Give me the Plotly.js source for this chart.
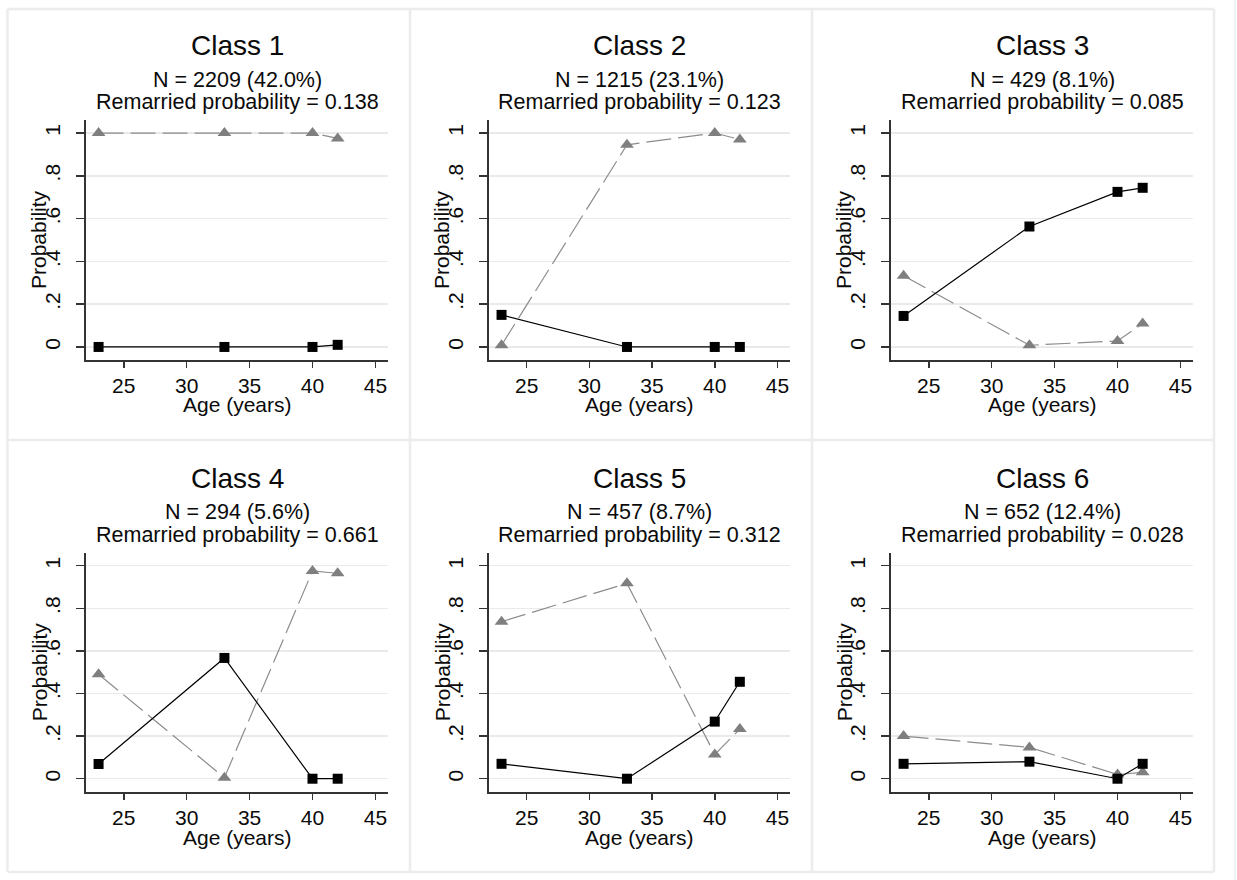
<!DOCTYPE html>
<html>
<head>
<meta charset="utf-8">
<script src="https://cdn.plot.ly/plotly-3.0.1.min.js"></script>
<style>html,body{margin:0;padding:0;background:#fff;}#chart{width:1237px;height:880px;}</style>
</head>
<body>
<div id="chart"></div>
<script>
// ---- data ----
const ages = [23, 33, 40, 42];
const classTitles = ["Class 1", "Class 2", "Class 3", "Class 4", "Class 5", "Class 6"];
const nLabels = ["N = 2209 (42.0%)", "N = 1215 (23.1%)", "N = 429 (8.1%)", "N = 294 (5.6%)", "N = 457 (8.7%)", "N = 652 (12.4%)"];
const remarriedProb = ["0.138", "0.123", "0.085", "0.661", "0.312", "0.028"];
const solidSeries1 = [0, 0, 0, 0.01];
const dashedSeries1 = [1.0, 1.0, 1.0, 0.975];
const solidSeries2 = [0.15, 0, 0, 0];
const dashedSeries2 = [0.008, 0.945, 1.0, 0.97];
const solidSeries3 = [0.145, 0.563, 0.725, 0.744];
const dashedSeries3 = [0.333, 0.008, 0.028, 0.11];
const solidSeries4 = [0.069, 0.567, 0, 0];
const dashedSeries4 = [0.49, 0.005, 0.975, 0.964];
const solidSeries5 = [0.07, 0, 0.268, 0.455];
const dashedSeries5 = [0.737, 0.917, 0.114, 0.233];
const solidSeries6 = [0.07, 0.08, 0, 0.07];
const dashedSeries6 = [0.2, 0.147, 0.02, 0.03];
const yTickVals = [0, 0.2, 0.4, 0.6, 0.8, 1];
const yTickText = ["0", ".2", ".4", ".6", ".8", "1"];
const xTickVals = [25, 30, 35, 40, 45];
const xTitle = "Age (years)";
const yTitle = "Probability";

const solidAll = [solidSeries1, solidSeries2, solidSeries3, solidSeries4, solidSeries5, solidSeries6];
const dashedAll = [dashedSeries1, dashedSeries2, dashedSeries3, dashedSeries4, dashedSeries5, dashedSeries6];

// ---- layout geometry (pixels) ----
const W = 1237, H = 880;
const FONT = "Liberation Sans, Arial, sans-serif";
const TXT = "#0a0a0a";
const px = v => v / W;
const py = v => 1 - v / H;
const colsPx = [[86, 388], [489, 790], [891, 1193]];
const rowsPx = [[120.2, 359.8], [552.9, 791.5]];
const rowOffset = [0, 432.7];

const traces = [];
const layout = {
  width: W, height: H,
  margin: {l: 0, r: 0, t: 0, b: 0},
  paper_bgcolor: "#ffffff",
  plot_bgcolor: "#ffffff",
  showlegend: false,
  font: {family: FONT, color: TXT},
  annotations: [],
  shapes: []
};

for (let i = 0; i < 6; i++) {
  const r = Math.floor(i / 3), c = i % 3;
  const k = i + 1;
  const xs = k === 1 ? "x" : "x" + k;
  const ys = k === 1 ? "y" : "y" + k;
  const xName = k === 1 ? "xaxis" : "xaxis" + k;
  const yName = k === 1 ? "yaxis" : "yaxis" + k;
  const [l, rr] = colsPx[c];
  const [t, b] = rowsPx[r];
  layout[xName] = {
    domain: [px(l), px(rr)], anchor: ys,
    range: [22, 46], tickvals: xTickVals,
    ticks: "outside", ticklen: 6, tickwidth: 1.5, tickcolor: "#333",
    showline: true, linecolor: "#333", linewidth: 2,
    showgrid: false, zeroline: false,
    tickfont: {family: FONT, size: 21, color: TXT},
    ticklabelstandoff: 0,
    fixedrange: true
  };
  layout[yName] = {
    domain: [py(b), py(t)], anchor: xs,
    range: [-0.06, 1.06], tickvals: yTickVals, ticktext: yTickText,
    tickangle: -90,
    ticks: "outside", ticklen: 8, tickwidth: 1.5, tickcolor: "#333",
    showline: true, linecolor: "#333", linewidth: 2,
    showgrid: true, gridcolor: "#eaeaea", gridwidth: 1.5, zeroline: false,
    tickfont: {family: FONT, size: 21, color: TXT},
    ticklabelstandoff: 8,
    fixedrange: true
  };
  traces.push({
    type: "scatter", mode: "lines+markers", x: ages, y: dashedAll[i],
    xaxis: xs, yaxis: ys,
    line: {color: "#8c8c8c", width: 1.2, dash: "25px,7px"},
    marker: {symbol: "triangle-up", size: 12, color: "#7f7f7f"},
    cliponaxis: false, hoverinfo: "skip"
  });
  traces.push({
    type: "scatter", mode: "lines+markers", x: ages, y: solidAll[i],
    xaxis: xs, yaxis: ys,
    line: {color: "#000", width: 1.2},
    marker: {symbol: "square", size: 10, color: "#000"},
    cliponaxis: false, hoverinfo: "skip"
  });
  const cx = (l + rr) / 2;
  const off = rowOffset[r];
  layout.annotations.push(
    {xref: "paper", yref: "paper", x: px(cx), y: py(46 + off), xanchor: "center", yanchor: "middle",
     text: classTitles[i], showarrow: false, font: {family: FONT, size: 28, color: TXT}},
    {xref: "paper", yref: "paper", x: px(cx), y: py(79.5 + off), xanchor: "center", yanchor: "middle",
     text: nLabels[i], showarrow: false, font: {family: FONT, size: 21.5, color: TXT}},
    {xref: "paper", yref: "paper", x: px(cx), y: py(102.5 + off), xanchor: "center", yanchor: "middle",
     text: "Remarried probability = " + remarriedProb[i], showarrow: false, font: {family: FONT, size: 21.5, color: TXT}},
    {xref: "paper", yref: "paper", x: px(cx), y: py(404.5 + off), xanchor: "center", yanchor: "middle",
     text: xTitle, showarrow: false, font: {family: FONT, size: 21, color: TXT}},
    {xref: "paper", yref: "paper", x: px(l - 47), y: py((t + b) / 2), xanchor: "center", yanchor: "middle",
     text: yTitle, textangle: -90, showarrow: false, font: {family: FONT, size: 21, color: TXT}}
  );
}

// panel borders
const borderColor = "#ececec";
const vLines = [7.5, 410, 812, 1214];
const hLines = [9, 440, 872];
vLines.forEach(v => layout.shapes.push({type: "line", xref: "paper", yref: "paper", x0: px(v), x1: px(v), y0: py(9), y1: py(872), line: {color: borderColor, width: 2.5}, layer: "below"}));
hLines.forEach(h => layout.shapes.push({type: "line", xref: "paper", yref: "paper", x0: px(7.5), x1: px(1214), y0: py(h), y1: py(h), line: {color: borderColor, width: 2.5}, layer: "below"}));
layout.shapes.push({type: "line", xref: "paper", yref: "paper", x0: px(1235), x1: px(1235), y0: 0, y1: 1, line: {color: "#eef0f0", width: 1.5}, layer: "below"});

Plotly.newPlot("chart", traces, layout, {staticPlot: true, displayModeBar: false});
</script>
</body>
</html>
